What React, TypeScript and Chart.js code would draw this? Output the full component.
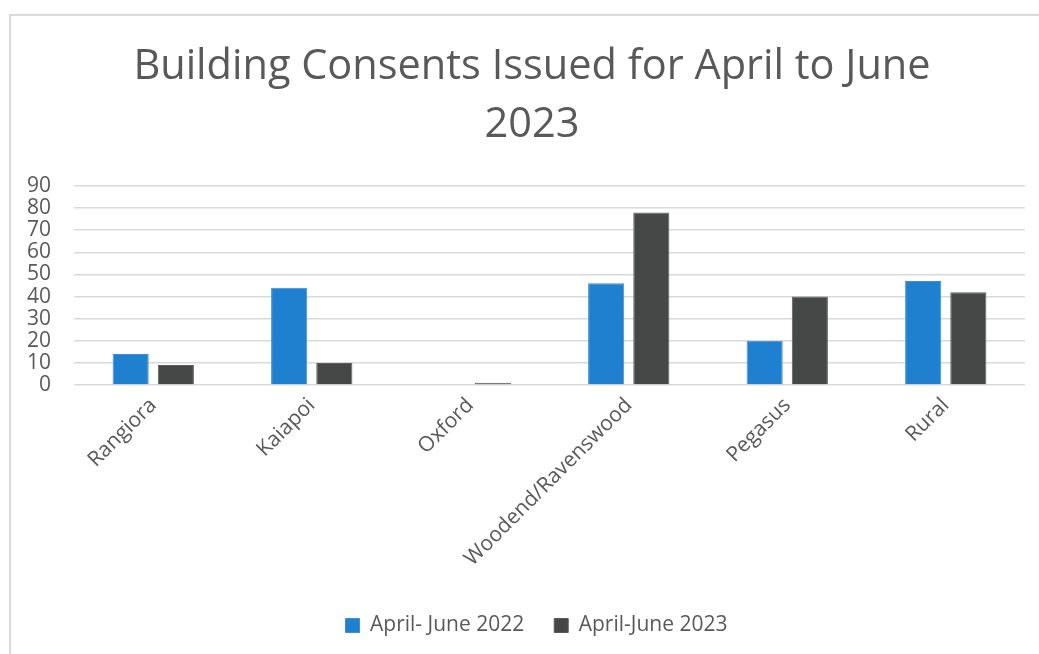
import React, { useEffect, useRef } from 'react';
import { Chart, registerables } from 'chart.js';

Chart.register(...registerables);

const categories = ['Rangiora', 'Kaiapoi', 'Oxford', 'Woodend/Ravenswood', 'Pegasus', 'Rural'];
const series2022 = [14, 44, 0, 46, 20, 47];
const series2023 = [9, 10, 1, 78, 40, 42];
const seriesLabels = ['April- June 2022', 'April-June 2023'];
const titleLines = ['Building Consents Issued for April to June', '2023'];
const yMin = 0;
const yMax = 90;
const yStep = 10;

const W = 1039;
const H = 654;
const FONT = "'Open Sans', 'Noto Sans', sans-serif";
const TEXT = '#595959';
const PAD_LEFT = 12;
const PAD_RIGHT = 14;
const PAD_TOP = 186;
const PAD_BOTTOM = 8;
const PLOT_LEFT = 74;
const PLOT_BOTTOM = 385;
const TITLE_X = 532;
const TITLE_Y = [67, 125];
const LEGEND_SHIFT = 18;

const frame = {
  id: 'frame',
  afterLayout(chart: any) {
    if (chart.legend) {
      chart.legend.left += LEGEND_SHIFT;
      chart.legend.right += LEGEND_SHIFT;
    }
  },
  beforeDraw(chart: any) {
    const ctx = chart.ctx;
    ctx.save();
    ctx.fillStyle = '#ffffff';
    ctx.fillRect(0, 0, chart.width, chart.height);
    ctx.strokeStyle = '#d9d9d9';
    ctx.lineWidth = 2;
    ctx.beginPath();
    ctx.moveTo(10, chart.height);
    ctx.lineTo(10, 15);
    ctx.lineTo(chart.width, 15);
    ctx.stroke();
    ctx.restore();
  },
  afterDraw(chart: any) {
    const ctx = chart.ctx;
    ctx.save();
    ctx.fillStyle = TEXT;
    ctx.font = `41.5px ${FONT}`;
    ctx.textAlign = 'center';
    ctx.textBaseline = 'middle';
    titleLines.forEach((line, i) => ctx.fillText(line, TITLE_X, TITLE_Y[i]));
    ctx.restore();
  },
};

export default function App() {
  const ref = useRef<HTMLCanvasElement>(null);
  useEffect(() => {
    if (!ref.current) return;
    const chart = new Chart(ref.current, {
      type: 'bar',
      data: {
        labels: categories,
        datasets: [
          {
            label: seriesLabels[0],
            data: series2022,
            backgroundColor: '#2080d0',
            borderColor: '#3d8fd6',
            borderWidth: 1,
            categoryPercentage: 0.57,
            barPercentage: 0.8,
          },
          {
            label: seriesLabels[1],
            data: series2023,
            backgroundColor: '#464847',
            borderColor: '#5a5c5b',
            borderWidth: 1,
            categoryPercentage: 0.57,
            barPercentage: 0.8,
          },
        ],
      },
      options: {
        responsive: false,
        animation: false,
        devicePixelRatio: 1,
        layout: { padding: { left: PAD_LEFT, right: PAD_RIGHT, top: PAD_TOP, bottom: PAD_BOTTOM } },
        plugins: {
          title: { display: false },
          legend: {
            display: true,
            position: 'bottom',
            labels: {
              color: TEXT,
              font: { family: FONT, size: 21 },
              boxWidth: 14,
              boxHeight: 14,
              padding: 30,
            },
          },
          tooltip: { enabled: false },
        },
        scales: {
          x: {
            grid: { display: false },
            border: { display: false },
            ticks: {
              color: TEXT,
              font: { family: FONT, size: 21 },
              minRotation: 45,
              maxRotation: 45,
              autoSkip: false,
              padding: 0,
            },
            afterFit(scale: any) {
              const legendH = scale.chart.legend ? scale.chart.legend.height : 0;
              scale.height = H - PLOT_BOTTOM - legendH - PAD_BOTTOM;
            },
          },
          y: {
            min: yMin,
            max: yMax,
            grid: { color: '#d9d9d9', lineWidth: 1.5, drawTicks: false },
            border: { display: false },
            ticks: {
              stepSize: yStep,
              autoSkip: false,
              color: TEXT,
              font: { family: FONT, size: 21, lineHeight: 0.9 },
              padding: 23,
            },
            afterFit(scale: any) {
              scale.width = PLOT_LEFT - PAD_LEFT;
            },
          },
        },
      },
      plugins: [frame],
    } as any);
    return () => chart.destroy();
  }, []);
  return (
    <div style={{ position: 'absolute', left: 0, top: 0, width: W, height: H, overflow: 'hidden' }}>
      <canvas ref={ref} width={W} height={H} style={{ display: 'block' }} />
    </div>
  );
}
